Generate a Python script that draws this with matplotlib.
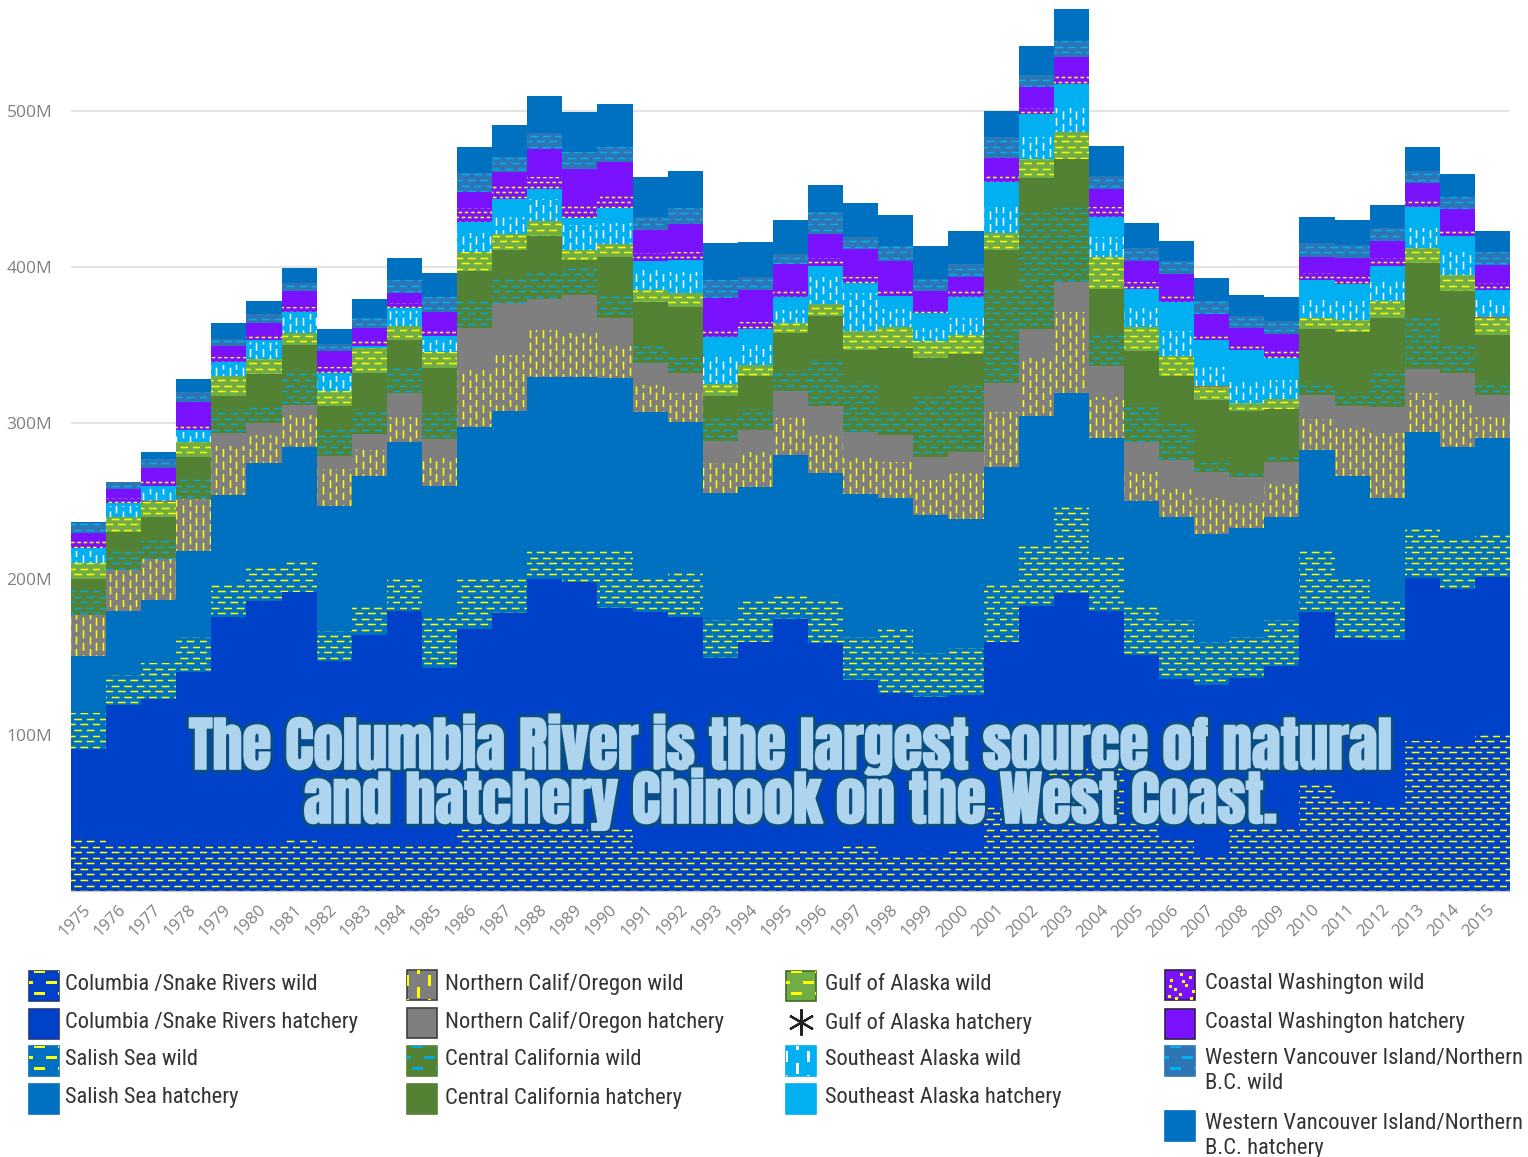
import numpy as np
import matplotlib
matplotlib.use("Agg")
import matplotlib.pyplot as plt
import matplotlib.hatch as mhatch
import matplotlib.patheffects as pe
from matplotlib.patches import Rectangle

years = list(range(1975, 2016))

# tops of each stacked layer, in millions
columbia_wild_top = [33.8, 30.1, 30.1, 30.1, 30.1, 30.1, 33.8, 30.1, 30.1, 30.1,
                     30.1, 40.6, 40.6, 40.6, 40.6, 40.6, 26.7, 26.7, 26.7, 26.7,
                     26.7, 26.7, 30.1, 23.1, 23.1, 26.7, 54.0, 75.4, 79.1, 79.1,
                     44.4, 33.8, 23.1, 40.6, 40.6, 68.6, 58.3, 54.7, 96.4, 92.9, 100.0]
columbia_hatchery_top = [90.8, 119.2, 122.9, 140.2, 175.9, 185.9, 191.9, 147.4, 164.1, 179.5,
                         143.2, 167.7, 178.0, 199.8, 197.9, 181.2, 179.1, 175.9, 149.1, 159.8,
                         174.4, 158.8, 135.3, 127.1, 124.6, 125.6, 159.8, 182.9, 190.8, 179.5,
                         151.3, 135.9, 132.1, 136.3, 144.4, 178.6, 162.0, 160.9, 200.4, 193.4, 201.5]
salish_wild_top = [113.9, 138.5, 146.0, 163.0, 197.6, 208.3, 211.7, 166.7, 184.0, 201.0,
                   176.9, 201.0, 201.0, 218.6, 218.6, 218.6, 201.0, 204.7, 173.7, 187.2,
                   190.7, 187.2, 163.0, 169.9, 152.4, 155.6, 197.9, 222.2, 246.8, 215.4,
                   184.0, 173.7, 159.8, 163.0, 173.7, 218.6, 201.0, 187.2, 232.5, 225.6, 229.3]
salish_hatchery_top = [150.6, 179.5, 186.5, 218.0, 253.8, 274.1, 284.4, 246.8, 266.0, 288.0,
                       259.8, 297.2, 307.9, 329.7, 329.7, 328.6, 306.8, 300.8, 255.3, 259.2,
                       279.5, 267.7, 254.5, 252.1, 241.0, 238.3, 272.0, 304.5, 319.0, 290.2,
                       250.2, 240.0, 228.6, 232.5, 240.0, 283.0, 266.0, 252.1, 294.4, 284.4, 290.2]
ncal_wild_top = [177.0, 205.8, 212.6, 251.0, 285.0, 292.3, 305.0, 270.3, 282.7, 304.0,
                 277.4, 333.9, 343.6, 359.8, 357.9, 349.6, 324.4, 319.4, 274.6, 281.6,
                 303.0, 292.3, 277.4, 275.2, 263.5, 267.7, 307.2, 341.4, 371.4, 316.9,
                 268.8, 258.0, 251.7, 248.5, 260.9, 302.4, 296.6, 293.4, 319.0, 314.7, 304.0]
ncal_hatchery_top = [177.0, 205.8, 212.6, 251.0, 293.4, 299.8, 311.7, 278.8, 293.0, 319.0,
                     289.5, 361.0, 376.7, 379.3, 382.0, 367.4, 338.7, 331.9, 288.7, 295.5,
                     320.7, 311.1, 294.4, 292.3, 278.4, 281.6, 325.4, 360.3, 390.6, 336.7,
                     287.6, 276.3, 268.4, 265.2, 275.2, 318.1, 311.1, 310.5, 334.6, 332.2, 318.1]
ccal_wild_top = [194.0, 218.6, 225.4, 263.9, 308.8, 312.4, 333.9, 295.5, 308.8, 337.2,
                 306.2, 379.3, 393.4, 397.0, 400.2, 383.3, 351.1, 344.2, 302.4, 308.8,
                 333.9, 340.8, 326.9, 308.8, 316.4, 323.7, 386.3, 434.8, 438.7, 358.5,
                 313.0, 299.1, 274.6, 267.7, 278.0, 326.9, 320.0, 333.9, 368.6, 351.1, 326.9]
ccal_hatchery_top = [199.8, 229.9, 239.5, 278.0, 317.3, 331.2, 350.0, 311.1, 332.2, 353.2,
                     335.5, 397.4, 411.1, 420.1, 404.5, 406.2, 377.4, 374.2, 317.3, 330.3,
                     357.8, 368.6, 346.8, 347.9, 341.9, 344.2, 411.1, 457.0, 469.2, 385.9,
                     346.2, 330.3, 314.7, 307.7, 309.0, 360.0, 358.5, 367.1, 402.8, 384.6, 356.4]
gulf_wild_top = [210.0, 239.5, 249.6, 287.6, 330.3, 340.8, 357.8, 320.5, 348.9, 362.4,
                 345.7, 409.8, 421.2, 429.7, 410.7, 414.7, 385.3, 383.5, 324.8, 337.2,
                 364.3, 376.3, 359.0, 361.8, 352.8, 356.4, 421.6, 469.0, 486.8, 406.6,
                 361.8, 343.1, 323.3, 313.0, 315.4, 367.1, 366.0, 378.2, 412.4, 394.9, 367.1]
gulf_hatchery_top = [210.0, 239.5, 250.2, 287.6, 330.3, 340.8, 357.8, 320.5, 348.9, 362.4,
                     345.7, 409.8, 421.2, 429.7, 410.7, 414.7, 385.3, 383.5, 324.8, 337.2,
                     364.3, 376.3, 359.0, 361.8, 352.8, 356.4, 421.6, 469.0, 486.8, 406.6,
                     361.8, 343.1, 323.9, 313.0, 315.4, 367.1, 366.0, 378.2, 412.4, 394.9, 367.7]
se_wild_top = [218.0, 247.0, 258.0, 294.0, 337.0, 352.0, 370.0, 330.0, 348.0, 372.0,
               353.0, 421.6, 432.3, 443.4, 426.9, 428.0, 398.0, 397.0, 342.5, 350.0,
               372.4, 393.8, 383.1, 373.1, 360.7, 367.1, 438.7, 483.5, 501.7, 419.4,
               373.5, 359.2, 336.1, 326.0, 327.6, 378.8, 378.4, 390.6, 424.8, 409.8, 378.8]
se_hatchery_top = [219.9, 248.5, 259.8, 295.5, 338.9, 353.2, 371.4, 331.9, 349.4, 373.5,
                   355.8, 429.0, 443.6, 449.8, 431.2, 438.0, 403.8, 404.5, 354.9, 360.3,
                   381.0, 400.8, 389.6, 381.6, 370.7, 381.0, 454.3, 498.1, 517.3, 432.3,
                   385.7, 377.6, 353.2, 346.8, 341.5, 391.7, 389.0, 400.8, 438.7, 420.1, 385.3]
wash_wild_top = [225.0, 252.0, 262.8, 297.9, 342.0, 356.4, 374.6, 335.7, 352.8, 377.0,
                 359.2, 437.6, 452.6, 457.5, 439.1, 446.2, 408.8, 409.8, 360.0, 365.0,
                 385.3, 406.0, 393.8, 385.9, 373.1, 384.6, 458.5, 501.7, 522.4, 438.7,
                 390.6, 382.7, 356.4, 350.6, 346.8, 396.3, 393.4, 405.6, 442.5, 424.4, 389.6]
wash_hatchery_top = [229.2, 257.5, 271.4, 313.7, 349.5, 363.9, 384.6, 346.2, 361.1, 383.5,
                     371.4, 448.3, 461.1, 475.4, 462.8, 467.5, 423.7, 427.4, 379.9, 385.3,
                     401.9, 421.2, 411.5, 403.8, 384.6, 393.4, 470.1, 515.1, 534.4, 450.0,
                     403.8, 395.3, 369.7, 361.1, 356.9, 406.6, 405.6, 416.9, 453.7, 437.2, 401.3]
wcvi_wild_top = [236.0, 262.0, 276.7, 320.0, 353.8, 369.7, 390.0, 350.4, 367.1, 391.7,
                 381.0, 460.0, 470.7, 485.7, 473.7, 477.1, 431.9, 437.6, 391.7, 393.8,
                 408.3, 435.3, 419.2, 413.5, 392.3, 401.9, 483.1, 523.1, 545.1, 458.5,
                 412.4, 403.6, 378.4, 368.8, 365.4, 415.2, 414.1, 425.2, 461.3, 444.7, 409.4]
wcvi_hatchery_top = [236.3, 262.4, 281.6, 328.0, 363.9, 378.4, 399.6, 360.0, 379.3, 405.6,
                     395.9, 477.1, 491.0, 509.6, 499.2, 504.3, 457.9, 461.3, 415.2, 416.0,
                     430.1, 452.6, 441.2, 433.6, 413.5, 423.1, 500.0, 541.7, 565.2, 477.8,
                     428.0, 416.9, 393.1, 381.8, 381.0, 431.9, 429.9, 439.6, 477.1, 459.6, 423.0]

y_ticks = [100, 200, 300, 400, 500]

blue_dark = "#0041C9"
blue_mid = "#0070C0"
gray = "#7F7F7F"
green_dark = "#548235"
green_light = "#70AD47"
sky = "#00B0F0"
purple = "#7A12FF"
steel = "#2E75B6"
yellow = "#FFFF00"

# top, face colour, hatch, hatch colour, going up the stack
layers = [
    (columbia_wild_top, blue_dark, "-", yellow),
    (columbia_hatchery_top, blue_dark, None, None),
    (salish_wild_top, blue_mid, "-", yellow),
    (salish_hatchery_top, blue_mid, None, None),
    (ncal_wild_top, gray, "|", yellow),
    (ncal_hatchery_top, gray, None, None),
    (ccal_wild_top, green_dark, "-", "#00A8E0"),
    (ccal_hatchery_top, green_dark, None, None),
    (gulf_wild_top, green_light, "-", yellow),
    (gulf_hatchery_top, "#C0651A", None, None),
    (se_wild_top, sky, "|", "#FFFFFF"),
    (se_hatchery_top, sky, None, None),
    (wash_wild_top, purple, ".", yellow),
    (wash_hatchery_top, purple, None, None),
    (wcvi_wild_top, steel, "-", sky),
    (wcvi_hatchery_top, blue_mid, None, None),
]

legend_cols = [
    (29, 65, [("Columbia /Snake Rivers wild", blue_dark, "-", yellow, "#1C3A80", 971),
              ("Columbia /Snake Rivers hatchery", blue_dark, None, None, "#1C3A80", 1009),
              ("Salish Sea wild", blue_mid, "-", yellow, None, 1046),
              ("Salish Sea hatchery", blue_mid, None, None, None, 1084)]),
    (407, 445, [("Northern Calif/Oregon wild", gray, "|", yellow, "#404040", 970),
                ("Northern Calif/Oregon hatchery", gray, None, None, "#404040", 1008),
                ("Central California wild", green_dark, "-", "#00A8E0", None, 1046),
                ("Central California hatchery", green_dark, None, None, None, 1084)]),
    (786, 825, [("Gulf of Alaska wild", green_light, "-", yellow, "#3F6B25", 971),
                ("Gulf of Alaska hatchery", None, None, None, None, 1009),
                ("Southeast Alaska wild", sky, "|", "#FFFFFF", None, 1046),
                ("Southeast Alaska hatchery", sky, None, None, None, 1084)]),
    (1165, 1205, [("Coastal Washington wild", purple, ".", yellow, "#30204A", 970),
                  ("Coastal Washington hatchery", purple, None, None, "#30204A", 1009),
                  ("Western Vancouver Island/Northern\nB.C. wild", steel, "-", sky, None, 1046),
                  ("Western Vancouver Island/Northern\nB.C. hatchery", blue_mid, None, None, None, 1111)]),
]

title_lines = ["The Columbia River is the largest source of natural",
               "and hatchery Chinook on the West Coast."]

narrow_fonts = ["Roboto Condensed", "Sofia Sans Condensed", "Saira Condensed", "Liberation Sans"]
heavy_fonts = ["Anton", "Oswald", "Roboto Condensed", "Saira Condensed", "Liberation Sans"]


def snap(v):
    # land on a pixel centre of the 100 px hatch tile
    return (np.floor(v * 100) + 0.5) / 100


# the chart's dashed textures are not in matplotlib, so add them as hatches
class DashHatch(mhatch.HatchPatternBase):
    def __init__(self, hatch, density):
        self.rows, self.per_row = 18, 8
        self.on = "-" in hatch
        self.num_vertices = self.rows * self.per_row * 2 if self.on else 0

    def set_vertices_and_codes(self, vertices, codes):
        n = 0
        for r in range(self.rows):
            for i in range(self.per_row):
                x = (i + 0.5 * (r % 2)) / self.per_row
                y = snap((r + 0.5) / self.rows)
                vertices[n] = (x, y)
                vertices[n + 1] = (x + 0.062, y)
                codes[n] = 1
                codes[n + 1] = 2
                n += 2


class TickHatch(mhatch.HatchPatternBase):
    def __init__(self, hatch, density):
        self.cols, self.per_col = 15, 8
        self.on = "|" in hatch
        self.num_vertices = self.cols * self.per_col * 2 if self.on else 0

    def set_vertices_and_codes(self, vertices, codes):
        n = 0
        for c in range(self.cols):
            for i in range(self.per_col):
                x = snap((c + 0.5) / self.cols)
                y = (i + 0.5 * (c % 2)) / self.per_col
                vertices[n] = (x, y)
                vertices[n + 1] = (x, y + 0.065)
                codes[n] = 1
                codes[n + 1] = 2
                n += 2


class SpeckHatch(mhatch.HatchPatternBase):
    def __init__(self, hatch, density):
        self.rows, self.per_row = 20, 16
        self.on = "." in hatch
        self.num_vertices = self.rows * self.per_row * 2 if self.on else 0

    def set_vertices_and_codes(self, vertices, codes):
        n = 0
        for r in range(self.rows):
            for i in range(self.per_row):
                x = (i + 0.5 * (r % 2)) / self.per_row
                y = snap((r + 0.5) / self.rows)
                vertices[n] = (x, y)
                vertices[n + 1] = (x + 0.02, y)
                codes[n] = 1
                codes[n + 1] = 2
                n += 2


mhatch._hatch_types = [DashHatch, TickHatch, SpeckHatch]
plt.rcParams["hatch.linewidth"] = 1.1
plt.rcParams["font.family"] = ["Open Sans", "DejaVu Sans"]

W, H = 1528, 1157
fig = plt.figure(figsize=(W / 100, H / 100), dpi=100)
ax = fig.add_axes([71 / W, (H - 891) / H, (1510 - 71) / W, (891 - 5) / H])

edges = years + [years[-1] + 1]
bottom = np.zeros(len(edges))
for top, face, hatch, hcolor in layers:
    top_ext = np.array(top + [top[-1]], dtype=float)
    ax.fill_between(edges, bottom, top_ext, step="post", facecolor=face,
                    edgecolor=hcolor if hatch else face, linewidth=0,
                    hatch=hatch, antialiased=False, zorder=3)
    bottom = top_ext

ax.set_xlim(edges[0], edges[-1])
ax.set_ylim(0, (891 - 5) / 1.56)
ax.set_yticks(y_ticks)
ax.set_yticklabels([f"{v}M" for v in y_ticks], fontsize=12.5, color="#808080")
ax.tick_params(axis="y", length=0, pad=13.5)
ax.set_xticks([y + 0.5 for y in years])
ax.set_xticklabels(years, rotation=45, ha="right", va="center", rotation_mode="anchor",
                   fontsize=12, color="#808080")
ax.tick_params(axis="x", length=0, pad=12)
ax.grid(axis="y", color="#E3E3E3", linewidth=1.5, zorder=0)
ax.set_axisbelow(True)
for side in ["top", "right", "left"]:
    ax.spines[side].set_visible(False)
ax.spines["bottom"].set_color("#C8C8C8")

# overlay in image pixels for the callout and the hand placed legend
over = fig.add_axes([0, 0, 1, 1], facecolor="none")
over.set_xlim(0, W)
over.set_ylim(H, 0)
over.axis("off")

outline = [pe.withStroke(linewidth=5.5, foreground="#0B4F82"),
           pe.withStroke(linewidth=1.2, foreground="#AED4EE")]
for line, yc in zip(title_lines, [745, 799]):
    over.text(790, yc, line, ha="center", va="center", fontsize=42.7,
              family=heavy_fonts, color="#AED4EE",
              path_effects=outline, zorder=10)


def swatch(x, y, face, hatch, hcolor, edge):
    box = Rectangle((x, y), 30, 30, facecolor=face, edgecolor=edge or face, linewidth=1.2)
    over.add_patch(box)
    marks = []
    if hatch == "-":
        for row, yo in enumerate([-1, 10, 21, 32]):
            shift = 12 if row % 2 else 0
            for xo in [-19, 5, 29]:
                marks.append((x + xo + shift, y + yo, 11, 2.6))
    elif hatch == "|":
        for col, xo in enumerate([-1, 10, 21, 32]):
            shift = 12 if col % 2 else 0
            for yo in [-19, 5, 29]:
                marks.append((x + xo, y + yo + shift, 2.6, 11))
    elif hatch == ".":
        for xo, yo in [(5, 9), (9, 18), (15, 3), (14, 23), (20, 14), (24, 6),
                       (27, 20), (3, 25), (17, 10), (25, 27), (10, 27), (4, 15)]:
            marks.append((x + xo, y + yo, 2.6, 2.6))
    for mx, my, mw, mh in marks:
        m = Rectangle((mx, my), mw, mh, facecolor=hcolor, linewidth=0)
        over.add_patch(m)
        m.set_clip_path(box)


for sx, tx, entries in legend_cols:
    for label, face, hatch, hcolor, edge, sy in entries:
        if face is None:
            over.plot([sx + 15], [sy + 13], marker=(6, 2, 0), markersize=19,
                      color="#222222", markeredgewidth=1.6, linestyle="none")
        else:
            swatch(sx, sy, face, hatch, hcolor, edge)
        dy = 2 if "\n" in label else 3
        over.text(tx, sy + dy, label, ha="left", va="top", fontsize=16.2, color="#333333",
                  family=narrow_fonts, linespacing=1.22, clip_on=False)

fig.savefig("out.png", dpi=100)
